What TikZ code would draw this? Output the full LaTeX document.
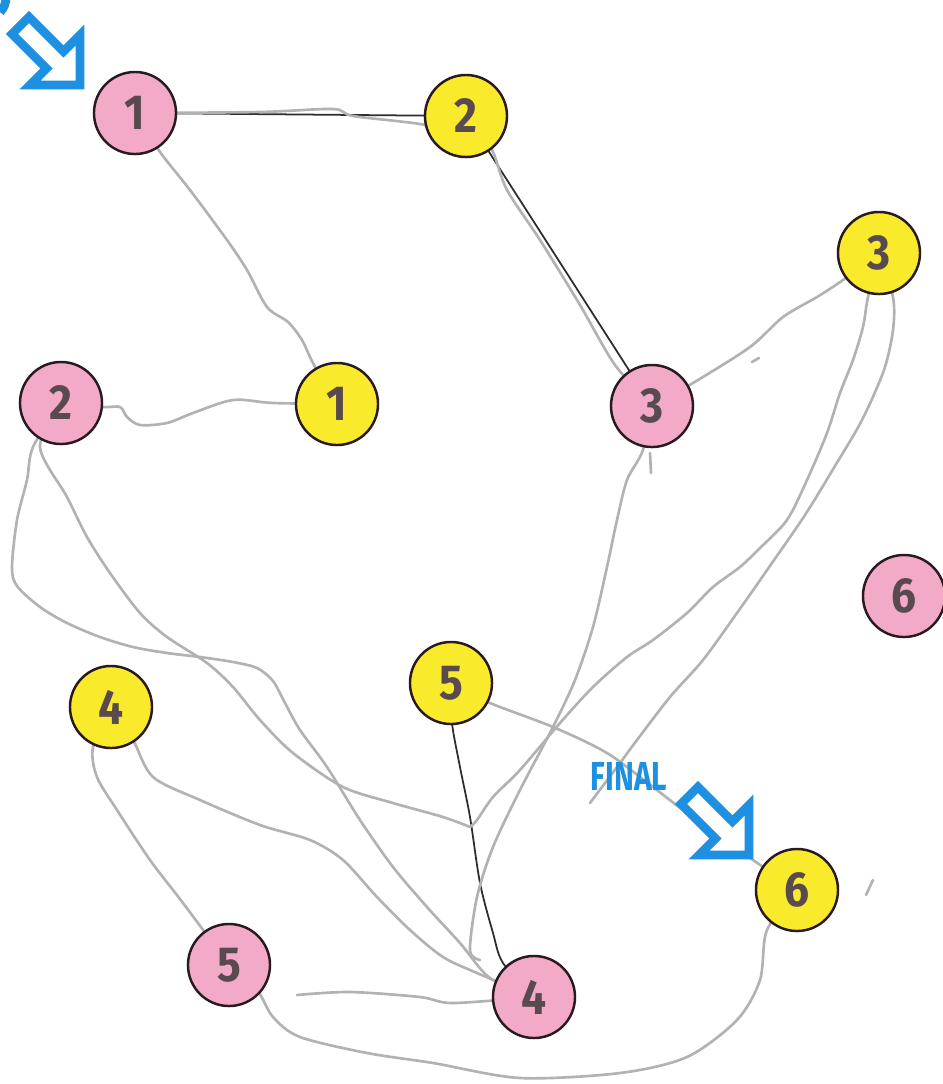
\documentclass[tikz,border=0pt]{standalone}
\usepackage{fontspec}
\setsansfont{Fira Sans}
\usetikzlibrary{backgrounds}

\definecolor{nodepink}{RGB}{243,170,200}
\definecolor{nodeyellow}{RGB}{249,234,44}
\definecolor{rimdark}{RGB}{40,26,30}
\definecolor{digitgray}{RGB}{88,74,78}
\definecolor{pencil}{RGB}{178,178,178}
\definecolor{inkline}{RGB}{45,45,45}
\definecolor{markerblue}{RGB}{30,144,226}

\tikzset{
  vertex/.style={circle, draw=rimdark, line width=0.7pt, minimum size=0.82cm,
    inner sep=0pt, font=\sffamily\bfseries\fontsize{14}{14}\selectfont, text=digitgray},
  pinkv/.style={vertex, fill=nodepink},
  yellowv/.style={vertex, fill=nodeyellow},
  pencilline/.style={draw=pencil, line width=0.75pt, line cap=round, line join=round},
  inkstroke/.style={draw=inkline, line width=0.5pt, line cap=round},
  blueline/.style={draw=markerblue, line width=2.5pt, line join=miter},
  % hollow block arrow, tip at the pic origin, pointing down-right
  hollow arrow/.pic={
    \draw[blueline, fill=white] (-51,-68) -- (-16.5,-33.5) -- (0,-50) -- (0,0)
      -- (-50,0) -- (-33.5,-16.5) -- (-68,-51) -- cycle;
  }
}

\begin{document}
\begin{tikzpicture}[x=0.01cm, y=-0.01cm]
\useasboundingbox (0,0) rectangle (943,1084);

% vertices
\node[pinkv]   (p1) at (135,113) {\scalebox{0.9}[1]{1}};
\node[yellowv] (y2) at (466,116) {\scalebox{0.9}[1]{2}};
\node[yellowv] (y3) at (879,253) {\scalebox{0.9}[1]{3}};
\node[pinkv]   (p2) at (61,403)  {\scalebox{0.9}[1]{2}};
\node[yellowv] (y1) at (337,404) {\scalebox{0.9}[1]{1}};
\node[pinkv]   (p3) at (652,406) {\scalebox{0.9}[1]{3}};
\node[pinkv]   (p6) at (904,596) {\scalebox{0.9}[1]{6}};
\node[yellowv] (y5) at (451,683) {\scalebox{0.9}[1]{5}};
\node[yellowv] (y4) at (111,707) {\scalebox{0.9}[1]{4}};
\node[yellowv] (y6) at (797,890) {\scalebox{0.9}[1]{6}};
\node[pinkv]   (p5) at (229,965) {\scalebox{0.9}[1]{5}};
\node[pinkv]   (p4) at (534,997) {\scalebox{0.9}[1]{4}};

% free ends of pencil strokes
\coordinate (jn) at (470,827);
\coordinate (e3) at (590,803);
\coordinate (e4) at (480,960);
\coordinate (s4) at (297,995);

% labels and markers
\node[font=\sffamily\bfseries\fontsize{11.5}{11.5}\selectfont, text=markerblue, inner sep=0pt]
  (final) at (629,776) {\scalebox{0.74}[1]{FINAL}};
\pic at (80,85) {hollow arrow};
\pic at (749,855) {hollow arrow};
\draw[blueline, line cap=butt] (0,12) .. controls (4,8) and (6,4) .. (6,-4);

\begin{scope}[on background layer]
\fill[white] (0,0) rectangle (943,1084);

% ink edges
\draw[inkstroke] (p1) -- (y2);
\draw[inkstroke] (y2) -- (p3);
\draw[inkstroke] plot[smooth] coordinates {(y5.center) (452,723) (460,767) (470,817)
  (480,883) (493,933) (503,963) (p4.center)};

% pencil edges
\draw[pencilline] plot[smooth] coordinates {(p1.center) (260,112) (333,109) (353,116)
  (420,124) (480,136) (493,152) (507,190) (540,240) (580,305) (615,365) (p3.center)};
\draw[pencilline] plot[smooth] coordinates {(p1.center) (160,152) (190,190) (227,240)
  (247,270) (267,307) (288,322) (302,340) (313,363) (y1.center)};
\draw[pencilline] plot[smooth] coordinates {(p2.center) (103,407) (120,407) (127,417)
  (140,425) (167,423) (193,413) (233,400) (273,403) (y1.center)};
\draw[pencilline] plot[smooth] coordinates {(p2.center) (33,447) (27,480) (17,520)
  (12,567) (17,586) (40,607) (67,623) (100,637) (133,647) (167,653) (200,657)
  (233,662) (257,668) (273,681) (285,703) (300,730) (327,767) (360,820) (393,867)
  (427,907) (460,943) (490,978) (p4.center)};
\draw[pencilline] plot[smooth] coordinates {(p2.center) (40,447) (67,497) (87,537)
  (110,573) (140,613) (167,637) (207,663) (233,687) (260,720) (293,753) (343,787)
  (393,803) (443,817) (jn)};
\draw[pencilline] plot[smooth] coordinates {(jn) (477,820) (493,797) (520,770)
  (560,723) (593,687) (627,657) (653,640) (687,613) (713,587) (740,567) (760,548)
  (787,520) (807,480) (827,433) (840,393) (853,360) (863,327) (868,297) (y3.center)};
\draw[pencilline] plot[smooth] coordinates {(y3.center) (893,297) (893,330) (884,370)
  (862,420) (835,466) (805,515) (772,563) (737,613) (703,660) (670,697) (637,740)
  (620,763) (e3)};
\draw[pencilline] plot[smooth] coordinates {(p3.center) (693,383) (750,347) (783,317)
  (817,297) (843,280) (y3.center)};
\draw[pencilline] plot[smooth] coordinates {(p3.center) (643,450) (627,480) (617,520)
  (607,567) (593,627) (575,680) (553,727) (520,790) (493,847) (477,897) (470,950) (e4)};
\draw[pencilline] plot[smooth] coordinates {(y5.center) (490,703) (553,727) (607,753)
  (653,787) (687,813) (753,860) (y6.center)};
\draw[pencilline] plot[smooth] coordinates {(y4.center) (93,747) (97,777) (117,810)
  (150,860) (183,903) (p5.center)};
\draw[pencilline] plot[smooth] coordinates {(y4.center) (133,740) (153,777) (200,800)
  (260,825) (310,840) (343,860) (377,897) (410,930) (443,957) (477,973) (p4.center)};
\draw[pencilline] plot[smooth] coordinates {(p5.center) (257,990) (273,1017) (300,1037)
  (367,1053) (433,1063) (520,1078) (620,1073) (687,1057) (737,1020) (760,980)
  (767,930) (y6.center)};
\draw[pencilline] plot[smooth] coordinates {(s4) (350,992) (420,997) (453,1003) (p4.center)};

% stray pencil marks
\draw[pencilline] (650,453) -- (651,473);
\draw[pencilline] (752,362) -- (759,358);
\draw[pencilline] (873,880) -- (866,895);
\end{scope}
\end{tikzpicture}
\end{document}
